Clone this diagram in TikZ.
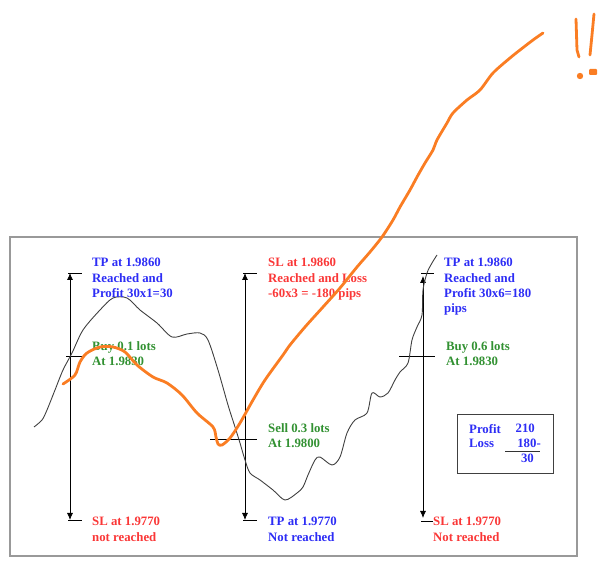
\documentclass[tikz,border=0pt]{standalone}
\usepackage{fontspec}
\setmainfont{Liberation Serif}
\usetikzlibrary{arrows.meta}
\definecolor{tpblue}{RGB}{45,45,245}
\definecolor{slred}{RGB}{250,55,55}
\definecolor{ordgreen}{RGB}{50,145,50}
\definecolor{pen}{RGB}{250,125,35}

\begin{document}
\begin{tikzpicture}[x=1pt,y=-1pt,
  lbl/.style={anchor=north west,inner sep=0pt,align=left,font=\bfseries\fontsize{12.8}{15.4}\selectfont},
  num/.style={lbl,anchor=north east},
  pricespan/.style={line width=0.8pt,{Latex[length=7pt,width=6pt]}-{Latex[length=7pt,width=6pt]}},
  tickln/.style={line width=0.8pt},
  price/.style={line width=0.9pt,black!75},
  scrawl/.style={line width=2.8pt,pen,line cap=round,line join=round}]
  \useasboundingbox (0,0) rectangle (614,569);
  \draw[line width=1.2pt,gray!80] (10,237) rectangle (577,556);

  \coordinate (tpA) at (70,273); \coordinate (slA) at (70,520);
  \coordinate (tpB) at (245,273); \coordinate (slB) at (245,520);
  \coordinate (tpC) at (423,276); \coordinate (slC) at (423,518);
  \draw[pricespan] (tpA) -- (slA);
  \draw[pricespan] (tpB) -- (slB);
  \draw[pricespan] (tpC) -- (slC);
  \draw[tickln] (68,273) -- (82,273) (68,520) -- (82,520);
  \draw[tickln] (243,273) -- (257,273) (243,520) -- (257,520);
  \draw[tickln] (421,273) -- (434,273) (421,521) -- (433,521);
  \draw[tickln] (66,356) -- (82,356);
  \draw[tickln] (210,439) -- (257,439);
  \draw[tickln] (399,356) -- (435,356);

  \draw[price] plot[smooth,tension=0.5] coordinates {(34,427) (42,420) (47,410) (55,390) (63,370) (72,353) (83,330) (100,310) (113,298) (127,298) (140,310) (157,323) (172,337) (187,334) (200,333) (208,340) (218,370) (228,405) (235,427) (240,443) (245,460) (250,473) (260,480) (273,490) (285,500) (297,493) (303,487) (308,475) (315,460) (320,457) (332,465) (340,457) (347,433) (355,420) (367,413) (372,393) (380,397) (388,393) (395,380) (400,372) (408,363) (412,340) (417,327) (422,315) (423,290) (427,273) (432,263) (437,255)};

  \node[lbl,text=tpblue] (hitA) at (92,258) {TP at 1.9860\\Reached and\\Profit 30x1=30};
  \node[lbl,text=ordgreen] (buyA) at (92,341) {Buy 0.1 lots\\At 1.9830};
  \node[lbl,text=slred] (missA) at (92,517) {SL at 1.9770\\not reached};
  \node[lbl,text=slred] (hitB) at (268,258) {SL at 1.9860\\Reached and Loss\\-60x3 = -180 pips};
  \node[lbl,text=ordgreen] (sellB) at (268,423) {Sell 0.3 lots\\At 1.9800};
  \node[lbl,text=tpblue] (missB) at (268,517) {TP at 1.9770\\Not reached};
  \node[lbl,text=tpblue] (hitC) at (444,258) {TP at 1.9860\\Reached and\\Profit 30x6=180\\pips};
  \node[lbl,text=ordgreen] (buyC) at (446,341) {Buy 0.6 lots\\At 1.9830};
  \node[lbl,text=slred] (missC) at (433,517) {SL at 1.9770\\Not reached};

  \draw[line width=0.9pt,black!75] (457,414) rectangle (553,473);
  \node[lbl,text=tpblue] (profit) at (469,424) {Profit};
  \node[lbl,text=tpblue] (loss) at (469,439) {Loss};
  \node[num,text=tpblue] (gain) at (535,424) {210};
  \node[num,text=tpblue] (cost) at (541,439) {180-};
  \node[num,text=tpblue] (net) at (534,454) {30};
  \draw[line width=0.8pt,black!80] (505,451) -- (540,451);

  \draw[scrawl] plot[smooth,tension=0.5] coordinates {(63,384) (75,375) (80,362) (87,353) (100,347) (113,347) (125,352) (137,365) (153,377) (167,383) (182,395) (197,413) (213,427) (216,437) (218,444) (222,445) (230,438) (240,423) (253,400) (265,380) (283,355) (290,345) (305,327) (323,307) (340,288) (357,267) (370,252) (382,237) (393,220) (400,207) (410,190) (417,177) (425,163) (433,150) (437,140) (447,123) (453,113) (467,100) (480,90) (493,73) (510,58) (520,50) (533,40) (543,33)};
  \draw[scrawl] (576,19) -- (577,50) -- (579,57);
  \draw[scrawl] (594,14) -- (592,35) -- (590,55);
  \fill[pen] (580,76) circle (3.2pt);
  \fill[pen,rounded corners=1pt] (589,69) rectangle (597,75);
\end{tikzpicture}
\end{document}
